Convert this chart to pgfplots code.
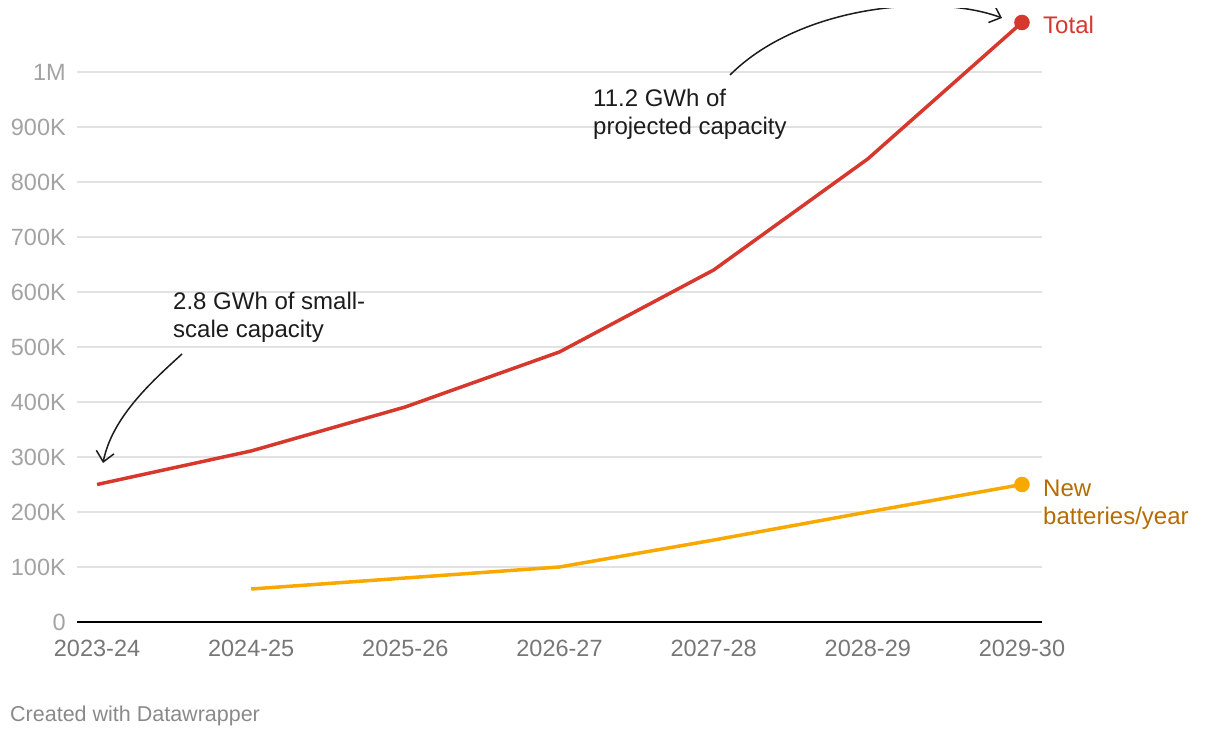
\documentclass[border=0pt]{standalone}
\usepackage{fontspec}
\setmainfont{Liberation Sans}
\usepackage{pgfplots}
\pgfplotsset{compat=1.18}
\usetikzlibrary{arrows.meta}
\definecolor{totred}{HTML}{D6382D}
\definecolor{neworange}{HTML}{F9A800}
\definecolor{newtext}{HTML}{B56C00}
\definecolor{gridgray}{HTML}{E2E2E2}
\definecolor{ylab}{HTML}{A3A3A3}
\definecolor{xlab}{HTML}{777777}
\definecolor{foot}{HTML}{8A8A8A}
\definecolor{annot}{HTML}{1C1C1C}
\begin{document}
\begin{tikzpicture}[x=1pt,y=1pt]
\useasboundingbox (0,0) rectangle (1220,738);
\begin{axis}[
  at={(77pt,116pt)}, anchor=south west,
  scale only axis, width=965pt, height=605pt,
  xmin=-0.13, xmax=6.13, ymin=0, ymax=1100000,
  clip=false,
  axis x line=bottom, axis y line=left,
  y axis line style={draw=none},
  x axis line style={draw=black, line width=2.5pt, -},
  major tick length=0pt,
  xtick={0,1,2,3,4,5,6},
  xticklabels={2023-24,2024-25,2025-26,2026-27,2027-28,2028-29,2029-30},
  ytick={0,100000,200000,300000,400000,500000,600000,700000,800000,900000,1000000},
  yticklabels={0,100K,200K,300K,400K,500K,600K,700K,800K,900K,1M},
  ymajorgrids, grid style={gridgray, line width=1.5pt},
  xticklabel style={font=\fontsize{23.5}{28}\selectfont, text=xlab, anchor=north, inner sep=0pt, yshift=-18pt},
  yticklabel style={font=\fontsize{23.5}{28}\selectfont, text=ylab, anchor=east, inner sep=0pt, xshift=-11pt},
]
\addplot[totred, line width=3.5pt, mark=*, mark indices={7}, mark size=6pt, mark options={fill=totred, draw=none}] coordinates {
 (0,250000) (1,311000) (2,391000) (3,491000) (4,640000) (5,842000) (6,1090000)};
\addplot[neworange, line width=3.5pt, mark=*, mark indices={6}, mark size=6pt, mark options={fill=neworange, draw=none}] coordinates {
 (1,60000) (2,80000) (3,100000) (4,149000) (5,200000) (6,250000)};
\end{axis}
\tikzset{lab/.style={font=\fontsize{24}{28}\selectfont, inner sep=0pt, anchor=base west}}
\node[lab, text=annot] at (593,631) {11.2 GWh of};
\node[lab, text=annot] at (593,603) {projected capacity};
\node[lab, text=annot] at (173,428) {2.8 GWh of small-};
\node[lab, text=annot] at (173,400) {scale capacity};
\node[lab, text=totred] at (1043,704) {Total};
\node[lab, text=newtext] at (1043,241) {New};
\node[lab, text=newtext] at (1043,213) {batteries/year};
\node[font=\fontsize{21.5}{24}\selectfont, inner sep=0pt, anchor=base west, text=foot] at (10,16) {Created with Datawrapper};
\begin{scope}
\clip (0,0) rectangle (1220,729);
\draw[annot, line width=1.5pt, -{Straight Barb[length=10pt,width=18pt]}] (730,663) .. controls (800,733) and (935,745) .. (1002,720);
\end{scope}
\draw[annot, line width=1.5pt, -{Straight Barb[length=10pt,width=18pt]}] (182,384) .. controls (150,355) and (112,320) .. (103,275);
\end{tikzpicture}
\end{document}
